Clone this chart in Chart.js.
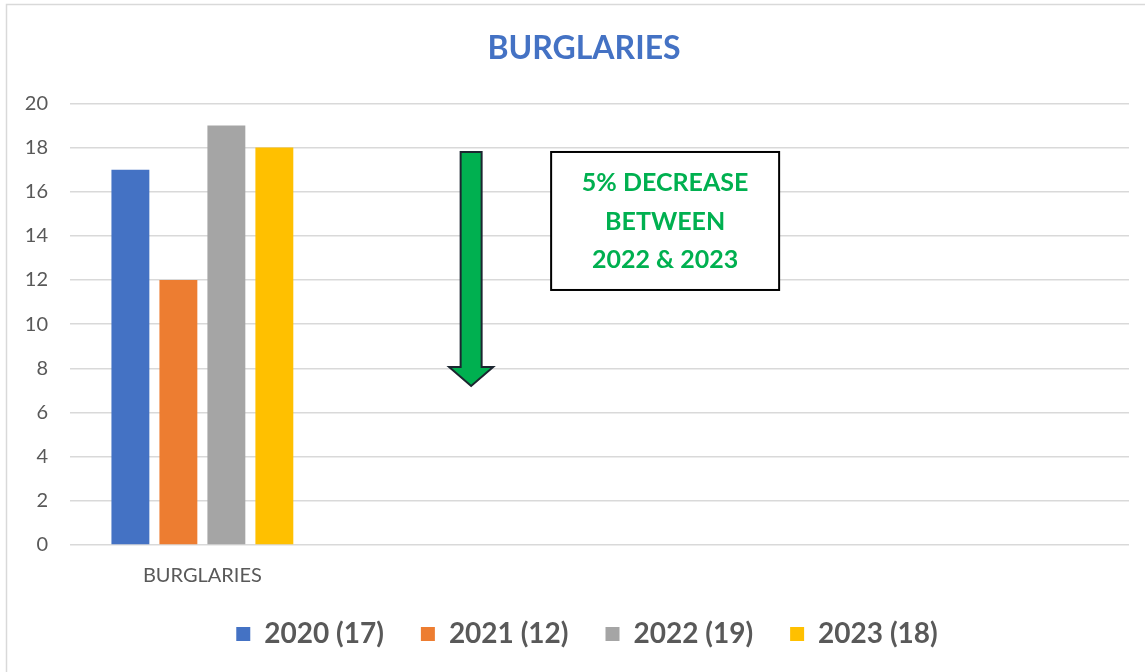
<!DOCTYPE html>
<html>
<head>
<meta charset="utf-8">
<script src="https://cdn.jsdelivr.net/npm/chart.js@4"></script>
<style>
    html, body { margin: 0; padding: 0; background: #ffffff; overflow: hidden; }
    #wrap { position: relative; width: 1145px; height: 672px; }
</style>
</head>
<body>
<div id="wrap"><canvas id="burglaryChart"></canvas></div>
<script>
    "use strict";

    // data
    var categories = ['BURGLARIES', '', '', ''];
    var years = ['2020', '2021', '2022', '2023'];
    var counts = [17, 12, 19, 18];
    var yTicks = [0, 2, 4, 6, 8, 10, 12, 14, 16, 18, 20];
    var noteLines = ['5% DECREASE', 'BETWEEN', '2022 & 2023'];

    var colors = ['#4472C4', '#ED7D31', '#A5A5A5', '#FFC000'];
    var textGray = '#595959';
    var green = '#00B050';
    var font = 'Lato, "Open Sans", sans-serif';

    // one dataset per year, only the first category holds a value
    var datasets = years.map(function (year, i) {
        var row = categories.map(function (c, j) { return j === 0 ? counts[i] : null; });
        return {
            label: year + ' (' + counts[i] + ')',
            data: row,
            backgroundColor: colors[i],
            borderWidth: 0,
            categoryPercentage: 0.725,
            barPercentage: 0.79
        };
    });

    function shiftBox(box, dx, dy) {
        if (!box) {
            return;
        }
        box.left += dx;
        box.right += dx;
        box.top += dy;
        box.bottom += dy;
    }

    // frame, arrow and note box drawn on the canvas
    var decorPlugin = {
        id: 'decor',
        afterLayout: function (chart) {
            // excel centres title and legend a little more to the right
            shiftBox(chart.titleBlock, 16, 0);
            shiftBox(chart.legend, 19, -10);
        },
        beforeDraw: function (chart) {
            var ctx = chart.ctx;
            ctx.save();
            ctx.strokeStyle = '#D9D9D9';
            ctx.lineWidth = 1.5;
            ctx.beginPath();
            ctx.moveTo(6.5, chart.height);
            ctx.lineTo(6.5, 4.5);
            ctx.lineTo(chart.width, 4.5);
            ctx.stroke();
            ctx.restore();
        },
        afterDraw: function (chart) {
            var ctx = chart.ctx;
            var xs = chart.scales.x;
            var ys = chart.scales.y;

            // down arrow
            var ax = xs.getPixelForValue(1) + 4;
            var top = ys.getPixelForValue(17.8);
            var tip = ys.getPixelForValue(7.2);
            var shaft = 10.5;
            var head = 22;
            var headLen = 19;
            ctx.save();
            ctx.beginPath();
            ctx.moveTo(ax - shaft, top);
            ctx.lineTo(ax + shaft, top);
            ctx.lineTo(ax + shaft, tip - headLen);
            ctx.lineTo(ax + head, tip - headLen);
            ctx.lineTo(ax, tip);
            ctx.lineTo(ax - head, tip - headLen);
            ctx.lineTo(ax - shaft, tip - headLen);
            ctx.closePath();
            ctx.fillStyle = green;
            ctx.fill();
            ctx.lineWidth = 2;
            ctx.lineJoin = 'miter';
            ctx.strokeStyle = '#1C2630';
            ctx.stroke();

            // note box
            var bx = xs.getPixelForValue(1) + 84;
            var bw = 228;
            var by = ys.getPixelForValue(17.8);
            var bh = ys.getPixelForValue(11.55) - by;
            ctx.fillStyle = '#ffffff';
            ctx.fillRect(bx, by, bw, bh);
            ctx.lineWidth = 2;
            ctx.strokeStyle = '#000000';
            ctx.strokeRect(bx, by, bw, bh);
            ctx.fillStyle = green;
            ctx.font = 'bold 25px ' + font;
            ctx.textAlign = 'center';
            ctx.textBaseline = 'middle';
            noteLines.forEach(function (line, i) {
                ctx.fillText(line, bx + bw / 2, by + 31 + i * 38.5);
            });
            ctx.restore();
        }
    };

    var ctx = document.getElementById('burglaryChart').getContext('2d');
    new Chart(ctx, {
        type: 'bar',
        data: { labels: categories, datasets: datasets },
        plugins: [decorPlugin],
        options: {
            responsive: true,
            maintainAspectRatio: false,
            animation: false,
            devicePixelRatio: 1,
            layout: { padding: { left: 7, right: 16, top: 0, bottom: 4 } },
            plugins: {
                title: {
                    display: true,
                    text: 'BURGLARIES',
                    color: '#4472C4',
                    font: { family: font, size: 32, weight: 'bold' },
                    padding: { top: 29, bottom: 36 }
                },
                legend: {
                    position: 'bottom',
                    labels: {
                        color: textGray,
                        font: { family: font, size: 28, weight: 'bold' },
                        boxWidth: 14,
                        boxHeight: 14,
                        padding: 37
                    }
                },
                tooltip: { enabled: false }
            },
            scales: {
                x: {
                    afterFit: function (scale) { scale.height = 48; },
                    grid: { display: false, drawTicks: false },
                    border: { display: false },
                    ticks: {
                        color: textGray,
                        font: { family: font, size: 20 },
                        padding: 19
                    }
                },
                y: {
                    min: 0,
                    max: 20,
                    afterFit: function (scale) { scale.width = 63; },
                    afterBuildTicks: function (scale) {
                        scale.ticks = yTicks.map(function (v) { return { value: v }; });
                    },
                    grid: { color: '#D9D9D9', lineWidth: 1.5, drawTicks: false },
                    border: { display: false },
                    ticks: {
                        color: textGray,
                        font: { family: font, size: 20 },
                        padding: 22
                    }
                }
            }
        }
    });
</script>
</body>
</html>
